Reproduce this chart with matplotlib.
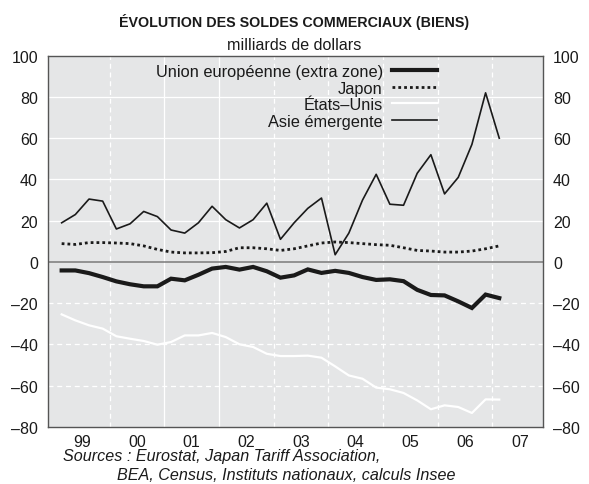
import matplotlib
matplotlib.use("Agg")
import matplotlib.pyplot as plt
import numpy as np

plt.rcParams['font.family'] = ['Liberation Sans', 'DejaVu Sans']

# Quarters 1999T1 .. 2007T1
quarters = [f"{y}T{q}" for y in range(1999, 2008) for q in range(1, 5)][:33]

ue = [-4.1, -4.1, -5.4, -7.3, -9.4, -10.8, -11.8, -11.8, -8.1, -8.9, -6.2, -3.2,
      -2.4, -3.7, -2.4, -4.5, -7.6, -6.5, -3.6, -5.3, -4.3, -5.3, -7.3, -8.7,
      -8.4, -9.3, -13.5, -16.0, -16.2, -19.1, -22.3, -15.8, -17.5]
japon = [8.9, 8.5, 9.4, 9.4, 9.2, 8.9, 7.8, 6.1, 4.8, 4.4, 4.4, 4.5,
         5.1, 6.9, 6.9, 6.4, 5.6, 6.4, 7.8, 9.2, 9.7, 9.4, 8.9, 8.4,
         8.1, 6.9, 5.6, 5.3, 4.8, 4.8, 5.3, 6.4, 7.8]
usa = [-25.4, -28.3, -30.7, -32.3, -36.0, -37.2, -38.3, -40.1, -38.8, -35.6, -35.6, -34.4,
       -36.4, -39.9, -41.2, -44.5, -45.6, -45.6, -45.4, -46.4, -50.6, -55.0, -56.6, -60.9,
       -61.7, -63.5, -67.1, -71.4, -69.5, -70.3, -73.2, -66.6, -66.7]
asie = [19.0, 23.0, 30.5, 29.5, 16.0, 18.5, 24.5, 22.0, 15.5, 14.0, 19.0, 27.0,
        20.5, 16.5, 20.5, 28.5, 11.0, 19.0, 26.0, 31.0, 3.5, 14.0, 30.0, 42.5,
        28.0, 27.5, 43.0, 52.0, 33.0, 41.0, 57.0, 82.0, 60.0]

year_labels = ['99', '00', '01', '02', '03', '04', '05', '06', '07']
y_ticks = [-80, -60, -40, -20, 0, 20, 40, 60, 80, 100]

x = np.array([int(s[:4]) + (int(s[-1]) - 0.5) / 4 for s in quarters])

fig = plt.figure(figsize=(5.89, 4.85), dpi=100)
ax = fig.add_axes([0.081, 0.1175, 0.8414, 0.7656])
bg = '#e5e6e7'
ax.set_facecolor(bg)

ax.set_xlim(1998.87, 2007.93)
ax.set_ylim(-80, 100)

# grid
for v in [20, 40, 60, 80]:
    ax.axhline(v, color='white', lw=0.9, zorder=1)
for v in [-20, -40, -60]:
    ax.axhline(v, color='white', lw=0.9, ls=(0, (4, 3)), zorder=1)
for yr in range(2000, 2008):
    if yr in (2001, 2002):
        ax.axvline(yr, color='white', lw=0.9, zorder=1)
    else:
        ax.axvline(yr, color='white', lw=0.9, ls=(0, (4, 3)), zorder=1)
ax.axhline(0, color='#7a7a7a', lw=1.1, zorder=2)

l1, = ax.plot(x, ue, color='#1a1a1a', lw=3.0, solid_joinstyle='miter', zorder=4,
              label='Union européenne (extra zone)')
l2, = ax.plot(x, japon, color='#1a1a1a', lw=2.0, ls=(0, (1, 1.1)), zorder=4, label='Japon')
l3, = ax.plot(x, usa, color='white', lw=1.6, zorder=3, label='États–Unis')
l4, = ax.plot(x, asie, color='#1a1a1a', lw=1.2, zorder=4, label='Asie émergente')

ax.set_yticks(y_ticks)
ax.set_yticklabels([str(v).replace('-', '–') for v in y_ticks])
ax.set_xticks([1999.5 + i for i in range(len(year_labels))])
ax.set_xticklabels(year_labels)
ax.tick_params(axis='both', length=0, labelsize=11.5, colors='#1a1a1a')
ax.tick_params(axis='y', pad=7, labelright=True, right=False)
ax.tick_params(axis='x', pad=5)
for s in ax.spines.values():
    s.set_color('#555555')
    s.set_linewidth(1.0)

leg = ax.legend(handles=[l1, l2, l3, l4], loc='upper right',
                bbox_to_anchor=(0.785, 0.978), frameon=False, markerfirst=False,
                fontsize=11.8, handlelength=2.75, handletextpad=0.55,
                labelspacing=0.1, borderpad=0, borderaxespad=0)
for t in leg.get_texts():
    t.set_ha('right')
    t.set_color('#1a1a1a')

fig.text(0.5, 0.955, 'ÉVOLUTION DES SOLDES COMMERCIAUX (BIENS)', ha='center', va='center',
         fontsize=10.3, fontweight='bold', color='#1a1a1a')
fig.text(0.5, 0.907, 'milliards de dollars', ha='center', va='center', fontsize=11.6,
         color='#1a1a1a')
fig.text(63 / 589, 1 - 457 / 485, 'Sources : Eurostat, Japan Tariff Association,',
         ha='left', va='center', fontsize=11.6, style='italic', color='#1a1a1a')
fig.text(117 / 589, 1 - 476 / 485, 'BEA, Census, Instituts nationaux, calculs Insee',
         ha='left', va='center', fontsize=11.6, style='italic', color='#1a1a1a')

fig.savefig('out.png', dpi=100, facecolor='white')
